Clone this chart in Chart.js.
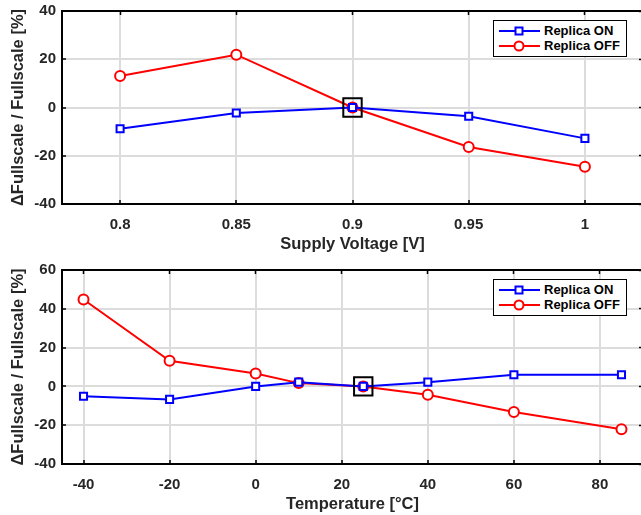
<!DOCTYPE html>
<html>
<head>
<meta charset="utf-8">
<script src="https://cdn.jsdelivr.net/npm/chart.js@4/dist/chart.umd.min.js"></script>
<style>
  body { margin: 0; background: #fff; width: 641px; height: 515px; overflow: hidden; position: relative; }
  canvas { position: absolute; left: 0; }
  #cTop { top: 0; }
  #cBot { top: 255px; }
  .legend { position: absolute; background: #fff; border: 1px solid #000; box-sizing: border-box;
            font: bold 13px "Liberation Sans", Arial, sans-serif; color: #000; padding: 3px 0 0 5px; }
  .legend div { height: 14.5px; line-height: 14.5px; white-space: nowrap; }
  .legend svg { vertical-align: top; margin-right: 3px; }
</style>
</head>
<body>
<canvas id="cTop" width="646" height="255"></canvas>
<canvas id="cBot" width="646" height="260"></canvas>
<script>
// supply voltage sweep
const voltage = [0.8, 0.85, 0.9, 0.95, 1];
const voltOn  = [-8.8, -2.3, 0, -3.6, -12.8];
const voltOff = [13.1, 21.9, 0, -16.4, -24.6];
const voltTicks = [0.8, 0.85, 0.9, 0.95, 1];
const voltTickLabels = ['0.8', '0.85', '0.9', '0.95', '1'];
const voltYTicks = [-40, -20, 0, 20, 40];
const voltRef = [0.9];

// temperature sweep
const temperature = [-40, -20, 0, 10, 25, 40, 60, 85];
const tempOn  = [-5.1, -6.7, 0, 2.2, 0, 2.2, 6.0, 6.0];
const tempOff = [44.8, 13.2, 6.7, 1.7, 0, -4.3, -13.2, -22.1];
const tempTicks = [-40, -20, 0, 20, 40, 60, 80];
const tempTickLabels = ['-40', '-20', '0', '20', '40', '60', '80'];
const tempYTicks = [-40, -20, 0, 20, 40, 60];
const tempRef = [25];

const seriesNames = ['Replica ON', 'Replica OFF'];
const FONT = '"Liberation Sans", Arial, sans-serif';
const TXT = '#262626';
const tickFont = { family: FONT, size: 15, weight: 'bold' };
const titleFont = { family: FONT, size: 16.5, weight: 'bold' };

function pts(xs, ys) { return xs.map((x, i) => ({ x: x, y: ys[i] })); }

// fix scale size and drop the extra label padding chart.js adds
function fitTo(w, h) {
  return s => {
    if (w !== null) s.width = w;
    if (h !== null) s.height = h;
    s.paddingTop = s.paddingBottom = s.paddingLeft = s.paddingRight = 0;
  };
}

function makeChart(id, o) {
  const tickSet = arr => (s => { s.ticks = arr.map(v => ({ value: v })); });
  const chart = new Chart(document.getElementById(id), {
    type: 'line',
    data: {
      datasets: [
        { label: '', data: pts(o.ref, [0]), showLine: false, pointStyle: 'rect',
          pointRadius: 13, pointBorderWidth: 2, pointBorderColor: '#000',
          pointBackgroundColor: 'rgba(0,0,0,0)' },
        { label: seriesNames[0], data: pts(o.xs, o.on), borderColor: '#0000ff', borderWidth: 2,
          pointStyle: 'rect', pointRadius: 5, pointBorderWidth: 2,
          pointBorderColor: '#0000ff', pointBackgroundColor: '#fff' },
        { label: seriesNames[1], data: pts(o.xs, o.off), borderColor: '#ff0000', borderWidth: 2,
          pointStyle: 'circle', pointRadius: 5, pointBorderWidth: 2,
          pointBorderColor: '#ff0000', pointBackgroundColor: '#fff' }
      ]
    },
    options: {
      responsive: false,
      animation: false,
      layout: { autoPadding: false, padding: { top: o.padTop, right: 3, left: 0, bottom: 0 } },
      plugins: { legend: { display: false }, tooltip: { enabled: false } },
      scales: {
        x: {
          type: 'linear', position: 'bottom', min: o.xMin, max: o.xMax,
          afterBuildTicks: tickSet(o.xTicks),
          afterFit: fitTo(null, 51),
          grid: { color: '#dcdcdc', lineWidth: 2, tickLength: -4, tickColor: '#000', tickWidth: 1.5 },
          border: { color: '#000', width: 2 },
          ticks: { color: TXT, padding: 16, font: tickFont,
                   maxRotation: 0, callback: (v, i) => o.xLabels[i] },
          title: { display: true, text: o.xTitle, color: TXT, padding: { top: 0, bottom: 0.5 },
                   font: titleFont }
        },
        x2: {
          type: 'linear', position: 'top', min: o.xMin, max: o.xMax,
          afterBuildTicks: tickSet(o.xTicks),
          afterFit: fitTo(null, 0),
          grid: { drawOnChartArea: false, tickLength: -4, tickColor: '#000', tickWidth: 1.5 },
          border: { color: '#000', width: 2 },
          ticks: { display: false }
        },
        y: {
          type: 'linear', position: 'left', min: o.yMin, max: o.yMax,
          afterBuildTicks: tickSet(o.yTicks),
          afterFit: fitTo(62, null),
          grid: { color: '#dcdcdc', lineWidth: 2, tickLength: -4, tickColor: '#000', tickWidth: 1.5 },
          border: { color: '#000', width: 2 },
          ticks: { color: TXT, padding: 10, font: tickFont },
          title: { display: true, text: '\u0394Fullscale / Fullscale [%]', color: TXT,
                   padding: { top: 9, bottom: 0 }, font: titleFont }
        },
        y2: {
          type: 'linear', position: 'right', min: o.yMin, max: o.yMax,
          afterBuildTicks: tickSet(o.yTicks),
          afterFit: fitTo(0, null),
          grid: { drawOnChartArea: false, tickLength: -4, tickColor: '#000', tickWidth: 1.5 },
          border: { color: '#000', width: 2 },
          ticks: { display: false }
        }
      }
    }
  });

  // html legend in the top right corner of the plot area
  const ca = chart.chartArea;
  const top0 = chart.canvas.offsetTop;
  const box = document.createElement('div');
  box.className = 'legend';
  box.style.width = '134px';
  box.style.height = '37px';
  box.style.left = (ca.right - 16 - 134) + 'px';
  box.style.top = (top0 + ca.top + 9) + 'px';
  chart.data.datasets.filter(d => d.label).forEach(d => {
    const c = d.borderColor;
    const mark = d.pointStyle === 'rect'
      ? `<rect x="16.5" y="3.5" width="7" height="7" fill="#fff" stroke="${c}" stroke-width="2"/>`
      : `<circle cx="20" cy="7" r="4.5" fill="#fff" stroke="${c}" stroke-width="2"/>`;
    const row = document.createElement('div');
    row.innerHTML = `<svg width="42" height="14"><line x1="0" y1="7" x2="41" y2="7" stroke="${c}" stroke-width="2"/>${mark}</svg>${d.label}`;
    box.appendChild(row);
  });
  document.body.appendChild(box);
  return chart;
}

makeChart('cTop', {
  xs: voltage, on: voltOn, off: voltOff, ref: voltRef,
  xMin: 0.775, xMax: 1.025, xTicks: voltTicks, xLabels: voltTickLabels,
  yMin: -40, yMax: 40, yTicks: voltYTicks,
  xTitle: 'Supply Voltage [V]', padTop: 11
});

makeChart('cBot', {
  xs: temperature, on: tempOn, off: tempOff, ref: tempRef,
  xMin: -45, xMax: 90, xTicks: tempTicks, xLabels: tempTickLabels,
  yMin: -40, yMax: 60, yTicks: tempYTicks,
  xTitle: 'Temperature [\u00B0C]', padTop: 15
});
</script>
</body>
</html>
